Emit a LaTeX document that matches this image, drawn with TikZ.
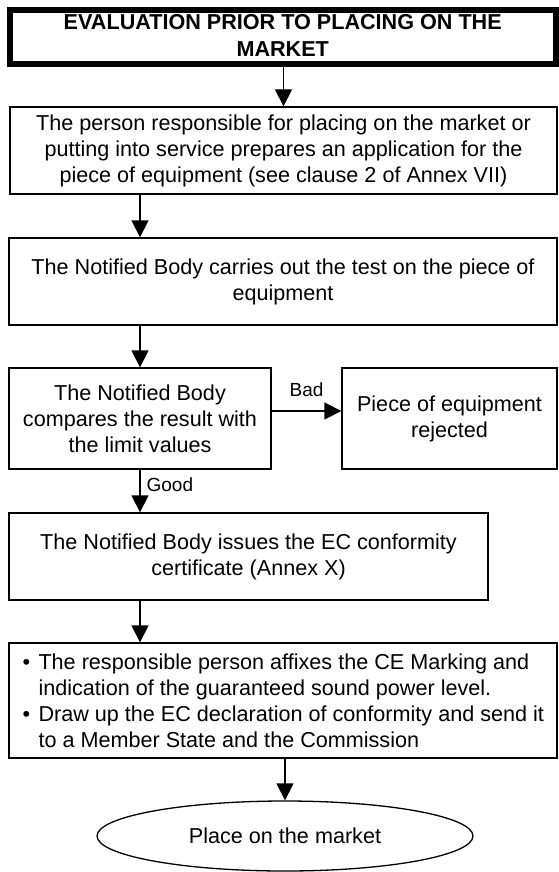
\documentclass[tikz,border=0pt]{standalone}
\usepackage{fontspec}
\setmainfont{Liberation Sans}
\usetikzlibrary{shapes.geometric,arrows.meta}
\begin{document}
\begin{tikzpicture}[x=1pt,y=-1pt,
  box/.style={draw, line width=1.3pt, fill=white, inner sep=0pt, align=center,
    font=\fontsize{21.6}{26}\selectfont},
  titlebox/.style={draw, line width=6pt, fill=white, inner sep=0pt, align=center,
    font=\fontsize{21.6}{27}\selectfont\bfseries},
  plain/.style={inner sep=0pt, align=left, font=\fontsize{21.6}{26}\selectfont},
  arr/.style={line width=1.3pt, -{Triangle[length=17pt,width=17pt]}},
  lbl/.style={font=\fontsize{19}{22}\selectfont, inner sep=0pt}]
\fill[white] (0,0) rectangle (559,872);
\useasboundingbox (0,0) rectangle (559,872);

\node[titlebox, minimum width=545.5pt, minimum height=54.5pt] (title) at (282.75,37.25)
  {EVALUATION PRIOR TO PLACING ON THE\\MARKET\rule[-3pt]{0pt}{1pt}};

\node[box, minimum width=547pt, minimum height=87pt] (apply) at (283.5,150.5)
  {The person responsible for placing on the market or\\putting into service prepares an application for the\\piece of equipment (see clause 2 of Annex VII)};

\node[box, minimum width=548pt, minimum height=87pt] (test) at (283,281.5)
  {The Notified Body carries out the test on the piece of\\equipment};

\node[box, minimum width=262pt, minimum height=101pt] (compare) at (140,418.5)
  {The Notified Body\\compares the result with\\the limit values};

\node[box, minimum width=215pt, minimum height=101pt] (reject) at (449.5,418.5)
  {Piece of equipment\\rejected};

\node[box, minimum width=479pt, minimum height=87pt] (cert) at (248.5,556.5)
  {The Notified Body issues the EC conformity\\certificate (Annex X)};

\node[box, minimum width=548pt, minimum height=115pt] (mark) at (283,700.5) {};
\node[plain, anchor=west] (marktext) at ([xshift=14pt]mark.west)
  {\makebox[16pt][l]{\textbullet}The responsible person affixes the CE Marking and\\
   \hspace*{16pt}indication of the guaranteed sound power level.\\
   \makebox[16pt][l]{\textbullet}Draw up the EC declaration of conformity and send it\\
   \hspace*{16pt}to a Member State and the Commission};

\node[box, ellipse, minimum width=376pt, minimum height=70pt] (market) at (285,836)
  {Place on the market};

\draw[arr] (title.south -| apply.north) -- (apply.north);
\draw[arr] (apply.south -| compare.north) -- (test.north -| compare.north);
\draw[arr] (test.south -| compare.north) -- (compare.north);
\draw[arr] ([yshift=7.5pt]compare.east) -- node[lbl, above=13.5pt] (bad) {Bad} ([yshift=7.5pt]reject.west);
\draw[arr] (compare.south) -- node[lbl, pos=0.36, right=6pt] (good) {Good} (cert.north -| compare.south);
\draw[arr] (cert.south -| compare.south) -- (mark.north -| compare.south);
\draw[arr] (mark.south -| market.north) -- (market.north);
\end{tikzpicture}
\end{document}
